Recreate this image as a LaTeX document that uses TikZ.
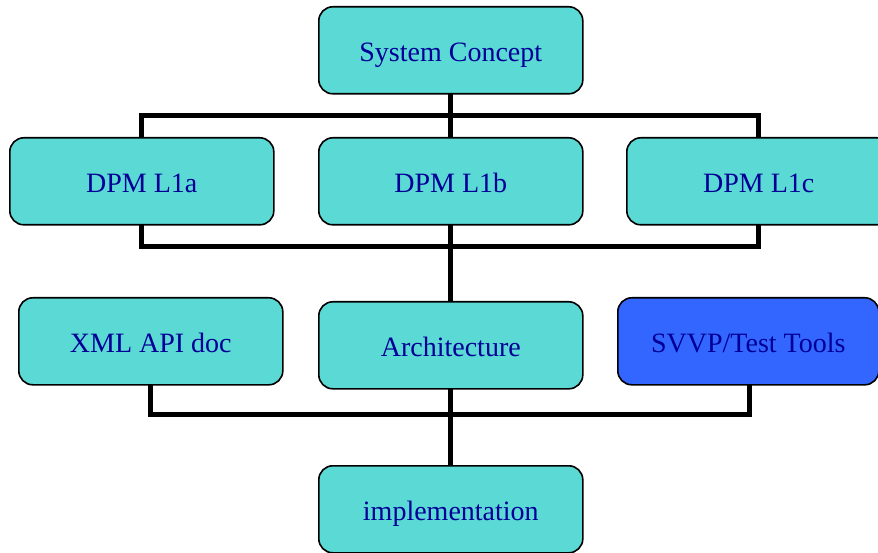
\documentclass[tikz,border=0pt]{standalone}
\usepackage{fontspec}
\setmainfont{Liberation Serif}
\usetikzlibrary{backgrounds}
\definecolor{boxfill}{RGB}{90,217,213}
\definecolor{toolfill}{RGB}{51,102,255}
\definecolor{labeltext}{RGB}{0,0,150}
\tikzset{
  stepbox/.style={draw=black, line width=1.6pt, rounded corners=14pt, fill=boxfill,
    minimum width=264pt, minimum height=87pt, inner sep=0pt, text=labeltext,
    text height=22pt, text depth=0pt,
    font=\fontsize{28}{33}\selectfont, anchor=north west},
  toolbox/.style={stepbox, fill=toolfill},
  bus/.style={draw=black, line width=5pt, line cap=rect, line join=miter}
}
\begin{document}
\begin{tikzpicture}[x=1pt, y=-1pt]
\useasboundingbox (0,0) rectangle (878,553);
% process boxes
\node[stepbox] (sc) at (318,6) {System Concept};
\node[stepbox] (l1a) at (9,137) {DPM L1a};
\node[stepbox] (l1b) at (318,137) {DPM L1b};
\node[stepbox] (l1c) at (626,137) {DPM L1c};
\node[stepbox] (xml) at (18,297) {XML API doc};
\node[stepbox] (arch) at (318,301) {Architecture};
\node[toolbox, minimum width=261pt] (svvp) at (617,297) {SVVP/Test Tools};
\node[stepbox] (impl) at (318,465) {implementation};
% bus levels
\coordinate (busA) at (450,116);
\coordinate (busB) at (450,246.5);
\coordinate (busC) at (450,414.5);
\coordinate (svvpdrop) at (749.5,386);
\begin{scope}[on background layer]
  \draw[bus] (sc.south) -- (sc.south |- busA);
  \draw[bus] (l1a.north) -- (l1a.north |- busA) -- (l1c.north |- busA) -- (l1c.north);
  \draw[bus] (l1b.north) -- (l1b.north |- busA);
  \draw[bus] (l1a.south) -- (l1a.south |- busB) -- (l1c.south |- busB) -- (l1c.south);
  \draw[bus] (l1b.south) -- (arch.north);
  \draw[bus] (xml.south) -- (xml.south |- busC) -- (svvpdrop |- busC) -- (svvpdrop);
  \draw[bus] (arch.south) -- (impl.north);
\end{scope}
\end{tikzpicture}
\end{document}
